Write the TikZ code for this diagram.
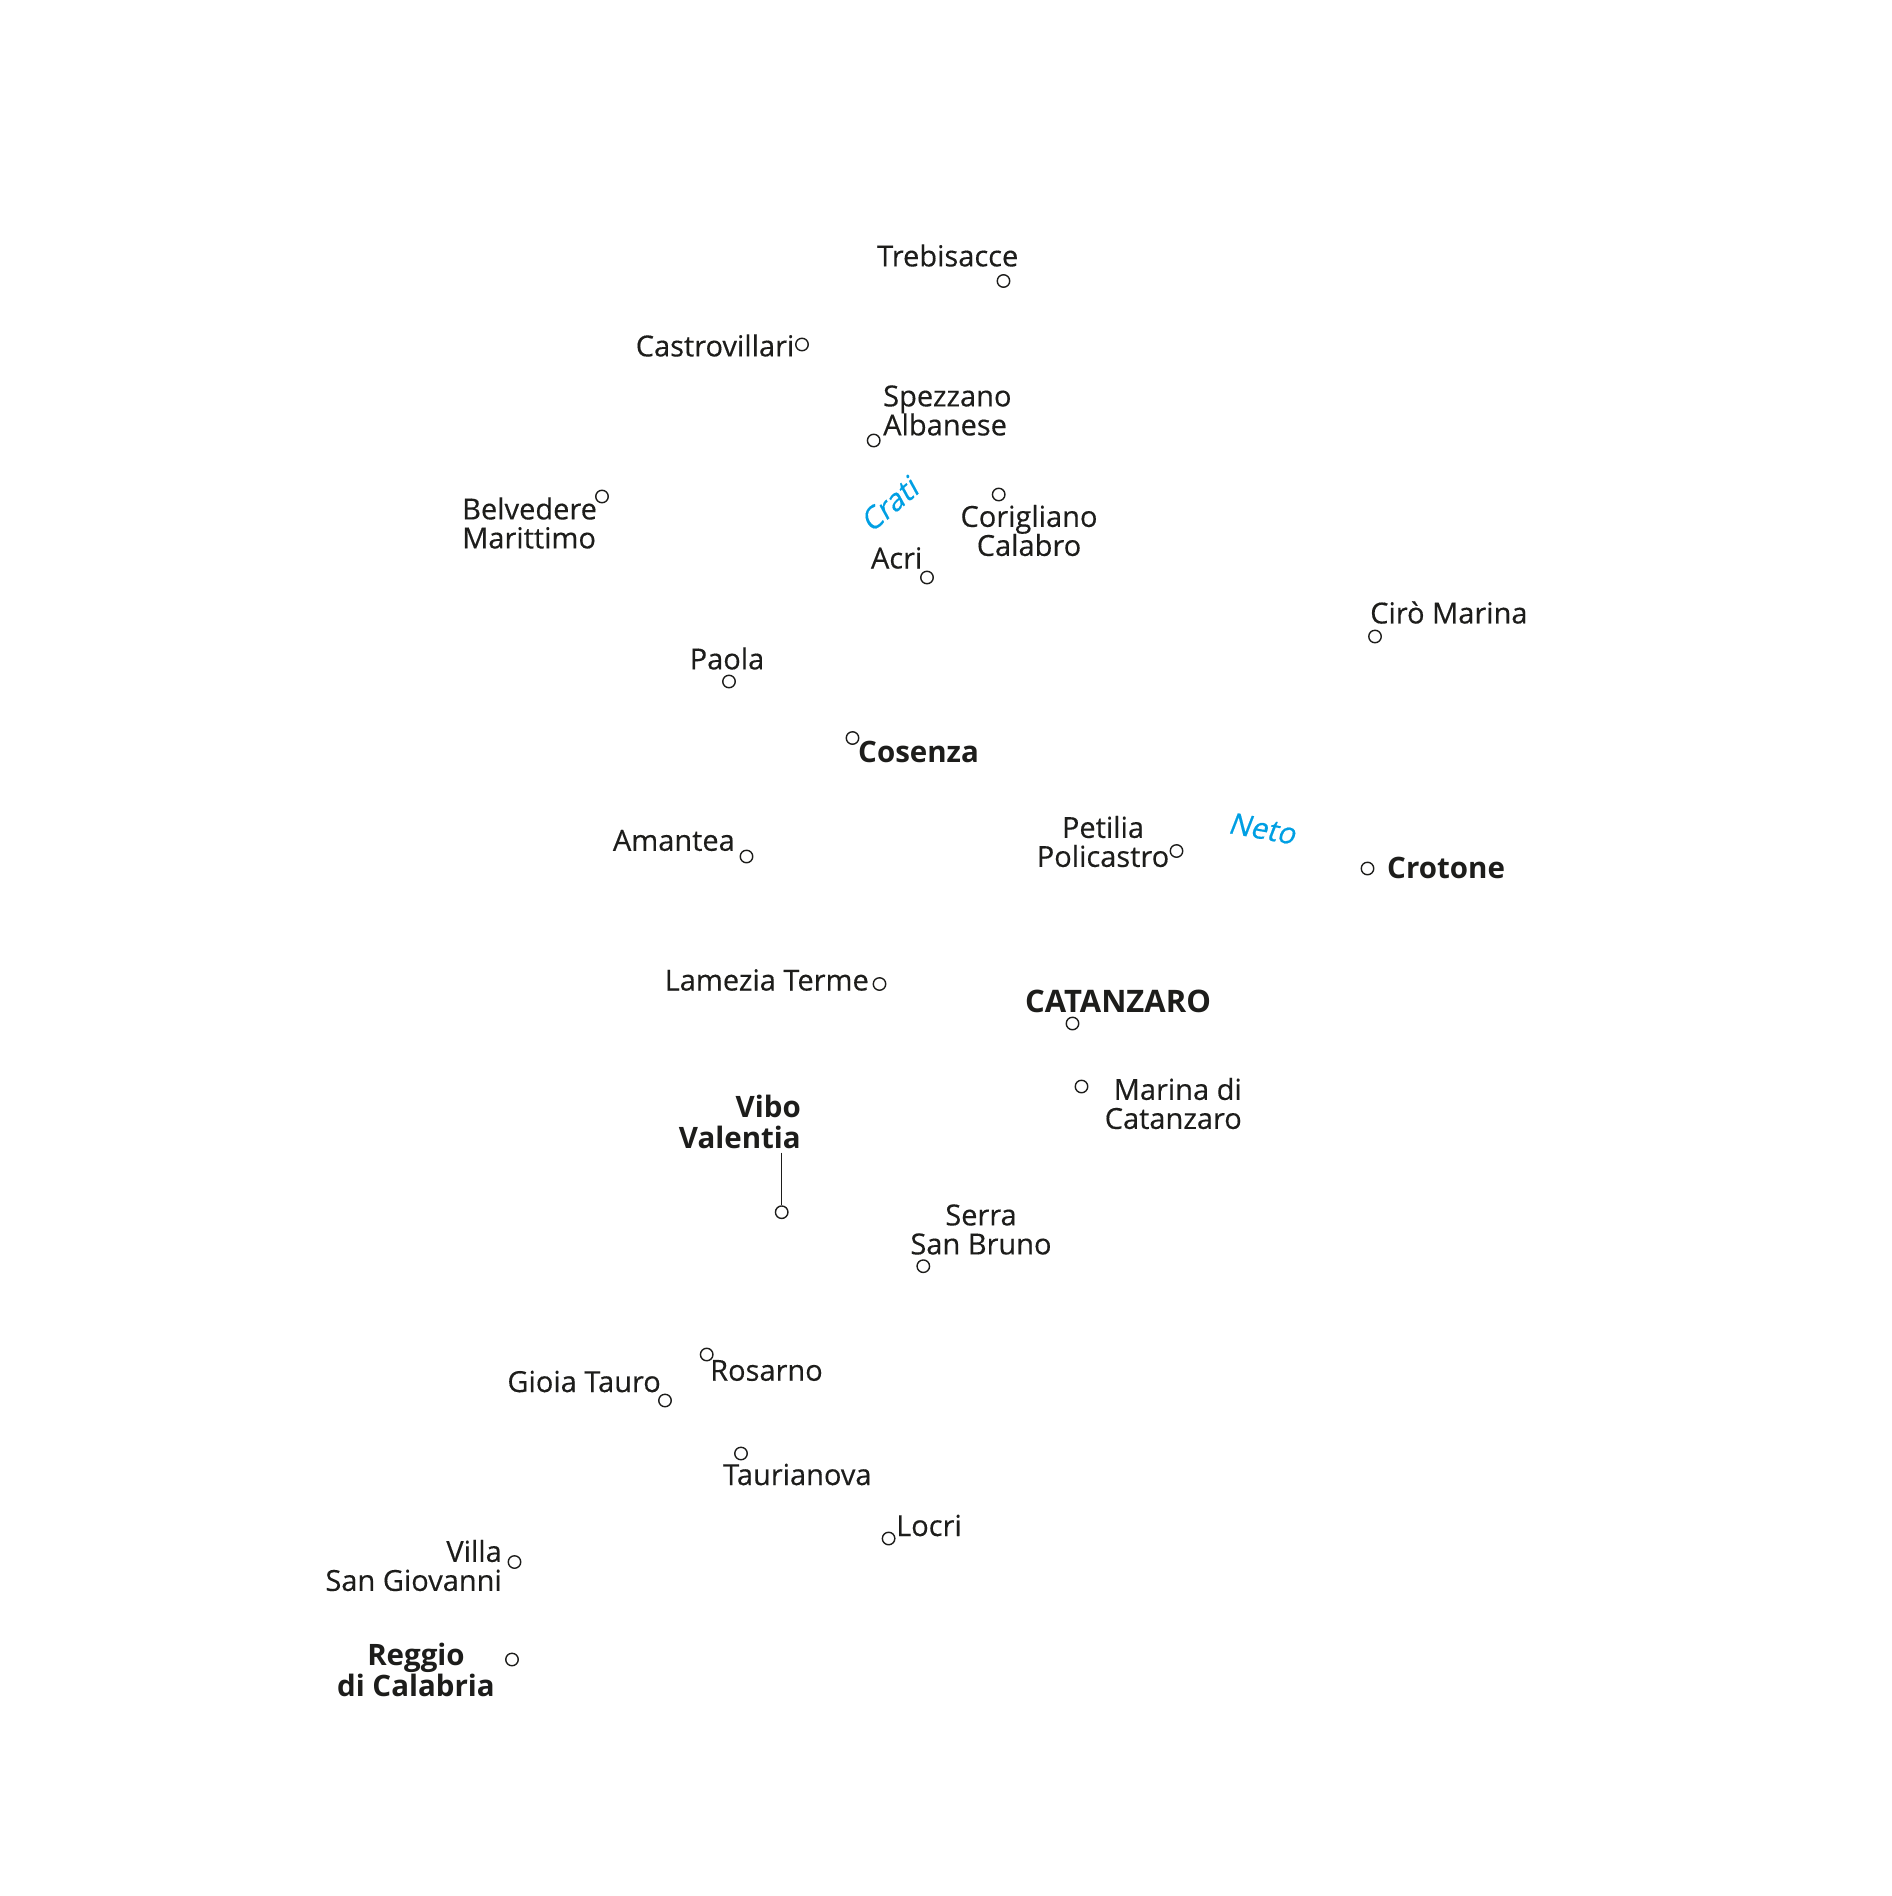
\documentclass[tikz,border=0pt]{standalone}
\usepackage{fontspec}
\setmainfont{Open Sans}
\newfontfamily\placefont[FakeBold=0.35]{Open Sans}
\newfontfamily\riverfont[FakeBold=0.35,FakeSlant=0.2]{Open Sans}
\definecolor{inkblack}{HTML}{1D1D1B}
\definecolor{rivercyan}{HTML}{009FE3}
\tikzset{
    town/.style={shape=circle,draw=inkblack,fill=white,line width=1.4pt,inner sep=0pt,minimum size=12.5pt},
    place/.style={text=inkblack,inner sep=0pt,font=\placefont\fontsize{29}{29}\selectfont},
    capital/.style={place,font=\fontsize{29.5}{31}\selectfont\bfseries},
    river/.style={text=rivercyan,inner sep=0pt,font=\riverfont\fontsize{29.5}{29}\selectfont}
}
\begin{document}
\begin{tikzpicture}[x=1pt,y=-1pt]
    \useasboundingbox (0,-0.5) rectangle (1892,1895.5);
    % towns
    \path (1003.5,280.5) node [town] (trebisacce) {}
          (802,344) node [town] (castrovillari) {}
          (873.7,440) node [town] (spezzano) {}
          (602,496) node [town] (belvedere) {}
          (998.7,494) node [town] (corigliano) {}
          (927,577) node [town] (acri) {}
          (1375,636) node [town] (ciro) {}
          (729,681) node [town] (paola) {}
          (852.5,737.5) node [town] (cosenza) {}
          (746.5,856) node [town] (amantea) {}
          (1176.5,850.5) node [town] (petilia) {}
          (1367.5,868) node [town] (crotone) {}
          (879.5,983.5) node [town] (lamezia) {}
          (1072.5,1023) node [town] (catanzaro) {}
          (1081.5,1086) node [town] (marina) {}
          (781.7,1211.7) node [town] (vibo) {}
          (923.3,1265.7) node [town] (serra) {}
          (706.7,1354) node [town] (rosarno) {}
          (665,1400) node [town] (gioia) {}
          (741,1453) node [town] (taurianova) {}
          (888.6,1538) node [town] (locri) {}
          (514.5,1561.5) node [town] (villa) {}
          (512,1659) node [town] (reggio) {};
    % labels
    \path (877,255) node [place,anchor=west] (trebisaccelabel) {Trebisacce}
          (794.5,345) node [place,anchor=east] (castrovillarilabel) {Castrovillari}
          (883,410) node [place,anchor=west,align=left] (spezzanolabel) {Spezzano\\Albanese}
          (462,522.5) node [place,anchor=west,align=left] (belvederelabel) {Belvedere\\Marittimo}
          (1029,530) node [place,align=center] (coriglianolabel) {Corigliano\\Calabro}
          (922.5,557.5) node [place,anchor=east] (acrilabel) {Acri}
          (1370,612) node [place,anchor=west] (cirolabel) {Cirò Marina}
          (727,658) node [place] (paolalabel) {Paola}
          (858,751) node [capital,anchor=west] (cosenzalabel) {Cosenza}
          (735,840) node [place,anchor=east] (amantealabel) {Amantea}
          (1103,841) node [place,align=center] (petilialabel) {Petilia\\Policastro}
          (1387,867) node [capital,anchor=west] (crotonelabel) {Crotone}
          (869,979.5) node [place,anchor=east] (lamezialabel) {Lamezia Terme}
          (1118,1001) node [capital,font=\fontsize{31}{31}\selectfont\bfseries] (catanzarolabel) {CATANZARO}
          (1242,1103) node [place,anchor=east,align=right] (marinalabel) {Marina di\\Catanzaro}
          (801,1121) node [capital,anchor=east,align=right] (vibolabel) {Vibo\\Valentia}
          (981,1229) node [place,align=center] (serralabel) {Serra\\San Bruno}
          (710,1370) node [place,anchor=west] (rosarnolabel) {Rosarno}
          (661,1381) node [place,anchor=east] (gioialabel) {Gioia Tauro}
          (723,1474) node [place,anchor=west] (taurianovalabel) {Taurianova}
          (896,1525) node [place,anchor=west] (locrilabel) {Locri}
          (502,1565) node [place,anchor=east,align=right] (villalabel) {Villa\\San Giovanni}
          (416,1669) node [capital,align=center] (reggiolabel) {Reggio\\di Calabria};
    % rivers
    \node [river,rotate=40] (crati) at (889,504) {Crati};
    \node [river,rotate=-10] (neto) at (1262,828) {Neto};
    % leader
    \coordinate (vibotop) at (781,1152);
    \draw [inkblack,line width=1pt] (vibotop) -- (vibotop |- vibo.north);
\end{tikzpicture}
\end{document}
